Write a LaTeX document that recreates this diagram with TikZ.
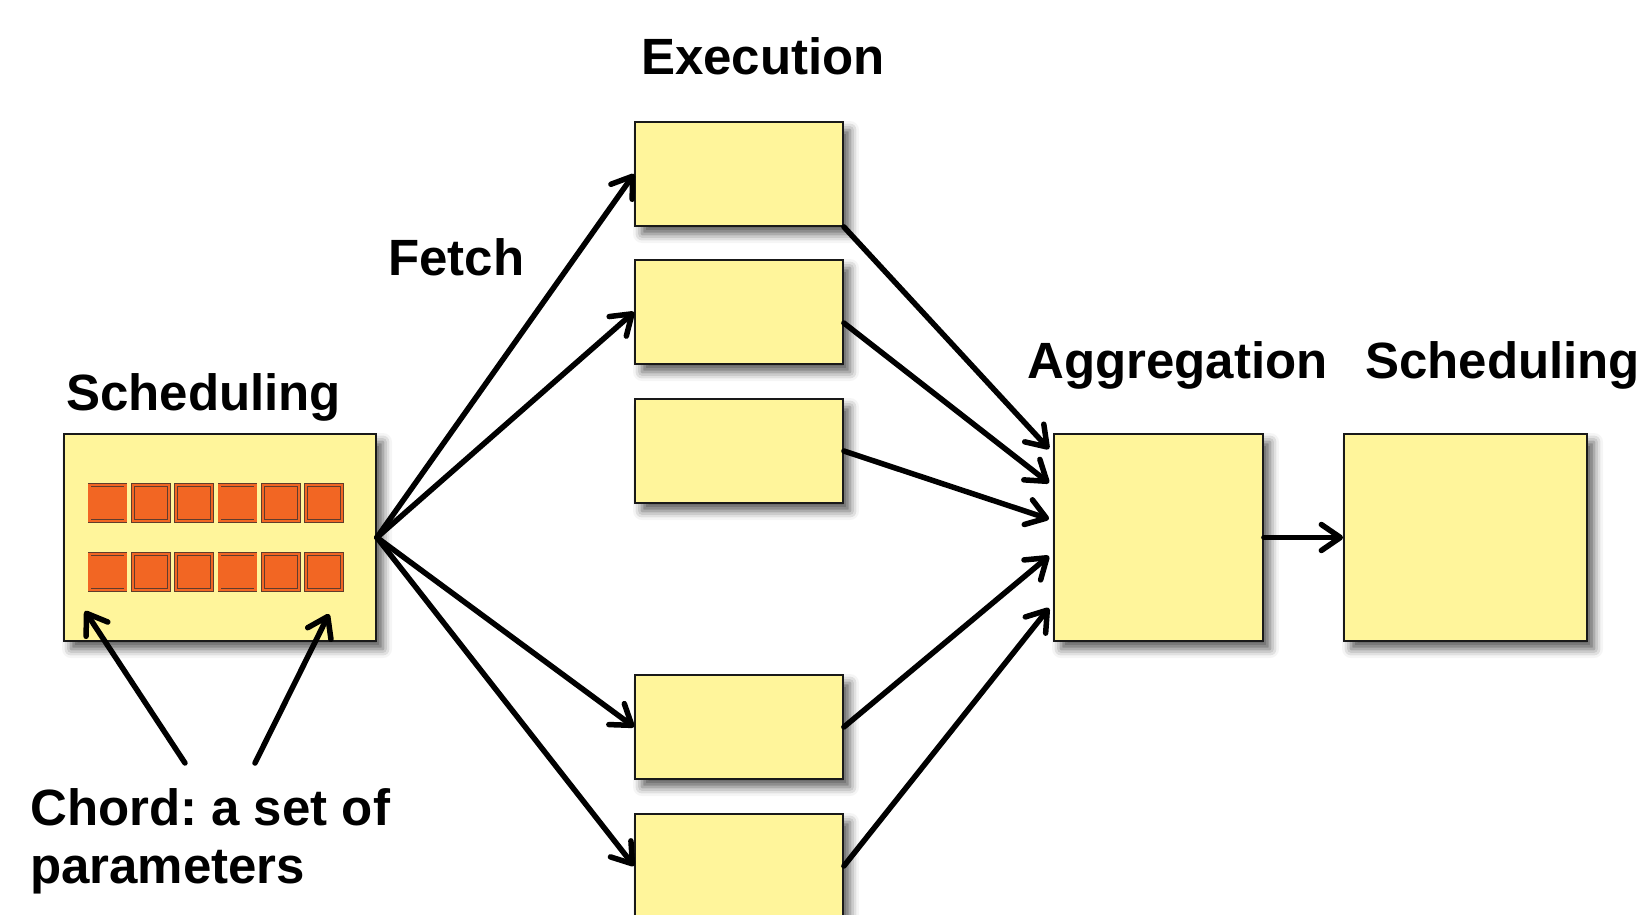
\documentclass[tikz,border=0pt]{standalone}
\usepackage{fontspec}
\setmainfont{Liberation Sans}
\usetikzlibrary{arrows.meta,shadows.blur}
\definecolor{boxyellow}{RGB}{255,245,155}
\definecolor{chordorange}{RGB}{242,102,35}
\definecolor{chordedge}{RGB}{95,60,45}
\frenchspacing
\begin{document}
\begin{tikzpicture}[x=1pt,y=-1pt,
  box/.style={draw=black!90, line width=1.8pt, fill=boxyellow, inner sep=0pt,
    blur shadow={shadow xshift=7pt, shadow yshift=-8pt, shadow blur radius=9pt, shadow opacity=65}},
  execbox/.style={box, minimum width=208pt, minimum height=104pt},
  bigbox/.style={box, minimum height=207pt},
  chordsq/.style={draw=chordedge, line width=0.8pt, double=chordorange, double distance=2.2pt,
    fill=chordorange, minimum size=36pt, inner sep=0pt},
  lbl/.style={font=\fontsize{51}{58}\selectfont\bfseries, inner sep=0pt, anchor=base west},
  arr/.style={line width=5.5pt, line cap=round, -{Straight Barb[length=19pt,width=26pt,round]}}]
\useasboundingbox (0,0) rectangle (1649,915);

% boxes
\node[bigbox, minimum width=312pt] (sched) at (220,537.5) {};
\node[execbox] (e1) at (739,174) {};
\node[execbox] (e2) at (739,312) {};
\node[execbox] (e3) at (739,451) {};
\node[execbox] (e4) at (739,727) {};
\node[execbox] (e5) at (739,866) {};
\node[bigbox, minimum width=209pt] (agg) at (1158.5,537.5) {};
\node[bigbox, minimum width=243pt] (sched2) at (1465.5,537.5) {};

% chord squares
\foreach \i in {0,...,5}{
  \node[chordsq] (sa\i) at (107.5+43.3*\i,503) {};
  \node[chordsq] (sb\i) at (107.5+43.3*\i,572) {};
}

% labels
\node[lbl] (lexec) at (641,75) {Execution};
\node[lbl] (lfetch) at (388,275) {Fetch};
\node[lbl] (lsched) at (66,410) {Scheduling};
\node[lbl] (lagg) at (1027,378) {Aggregation};
\node[lbl] (lsched2) at (1365,378) {Scheduling};
\node[lbl, align=left] (lchord) at (30,883) {Chord: a set of\\parameters};

% coordinates
\coordinate (t1) at (1049,449);
\coordinate (t2) at (1049,483);
\coordinate (t3) at (1049,519);
\coordinate (t4) at (1049,556);
\coordinate (t5) at (1049,608);
\coordinate (c1) at (185,763);
\coordinate (p1) at (85,611);
\coordinate (c2) at (255,763);
\coordinate (p2) at (329,614);

% connectors
\draw[arr] (sched.east) -- (e1.west);
\draw[arr] (sched.east) -- (e2.west);
\draw[arr] (sched.east) -- (e4.west);
\draw[arr] (sched.east) -- (e5.west);
\draw[arr] (e1.south east) -- (t1);
\draw[arr] ([yshift=-11pt]e2.east) -- (t2);
\draw[arr] (e3.east) -- (t3);
\draw[arr] (e4.east) -- (t4);
\draw[arr] (e5.east) -- (t5);
\draw[arr] (agg.east) -- (sched2.west);
\draw[arr] (c1) -- (p1);
\draw[arr] (c2) -- (p2);
\end{tikzpicture}
\end{document}
